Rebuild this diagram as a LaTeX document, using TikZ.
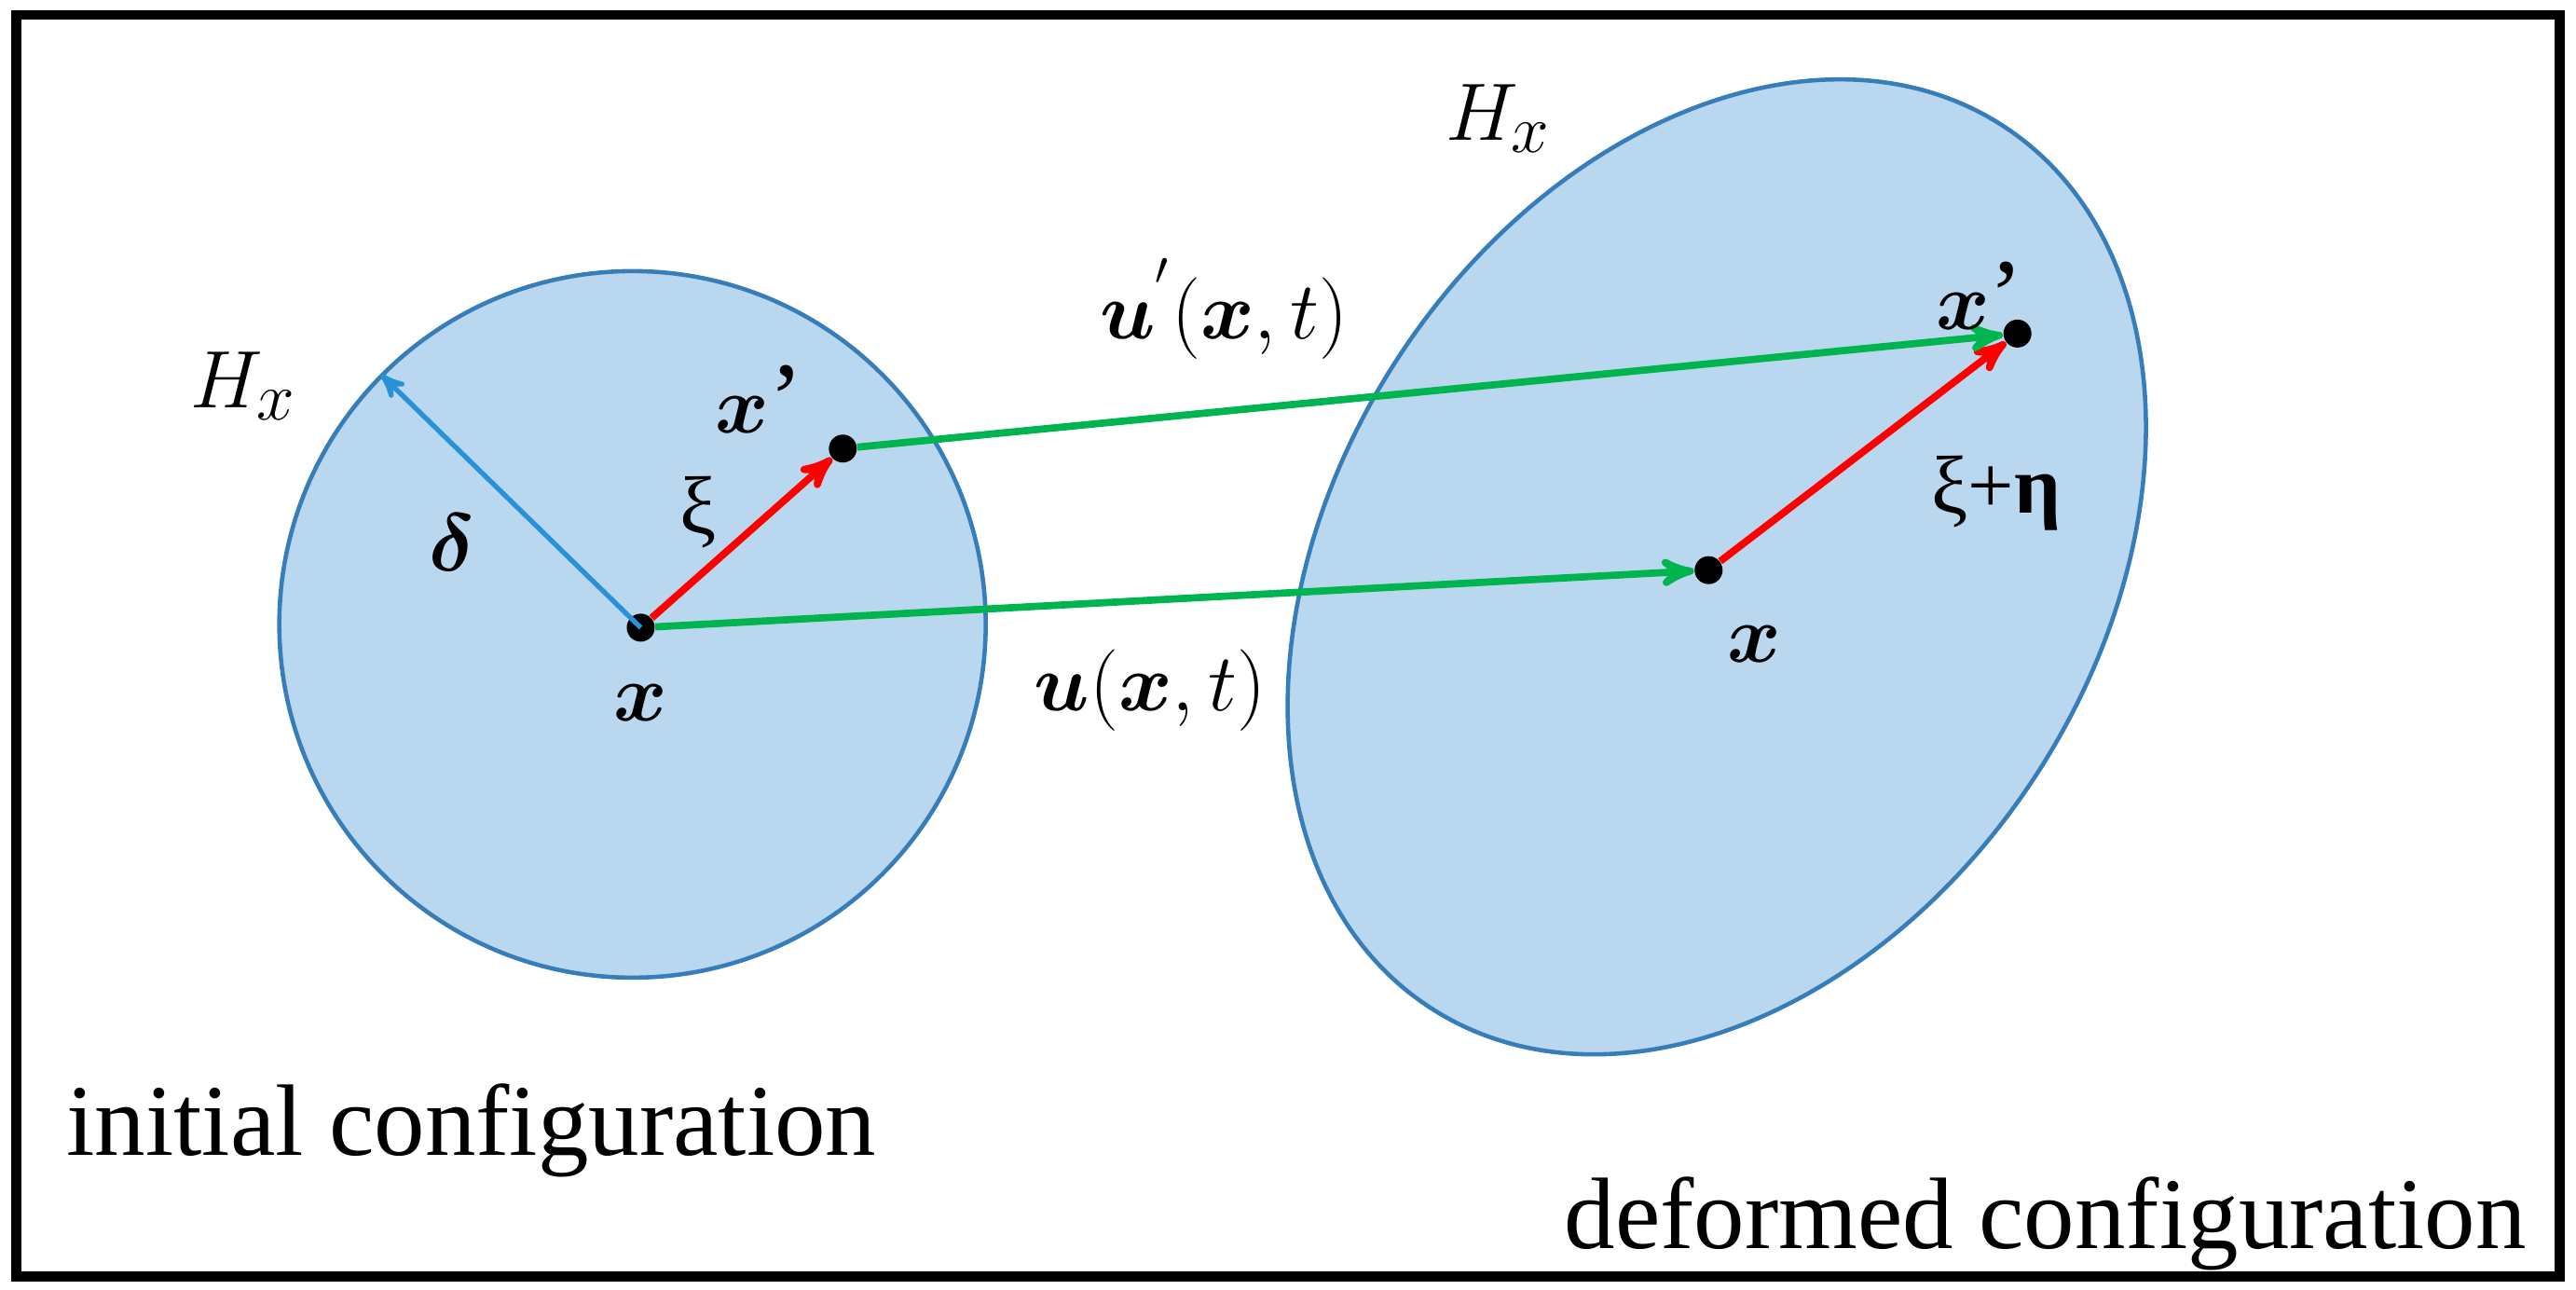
\documentclass[tikz,border=0pt]{standalone}
\usepackage{amsmath,bm}
\usepackage{fontspec}
\setmainfont{Liberation Serif}
\usetikzlibrary{positioning,arrows}
\definecolor{hfill}{RGB}{185,216,239}
\definecolor{hline}{RGB}{55,125,185}
\definecolor{dgreen}{RGB}{0,180,80}
\definecolor{darr}{RGB}{40,145,215}
\begin{document}
\begin{tikzpicture}[x=0.017628cm,y=-0.017628cm]
  \tikzstyle{region} = [draw=hline, line width=1.3pt, fill=hfill]
  \tikzstyle{pt} = [circle, fill=black, inner sep=0pt, minimum size=0.3cm]
  \tikzstyle{disp} = [line width=2.2pt, draw=dgreen, ->, >=stealth']
  \tikzstyle{bond} = [line width=2.2pt, draw=red, ->, >=stealth']
  \tikzstyle{lbl} = [font=\fontsize{31}{36}\selectfont]
  \tikzstyle{slbl} = [font=\fontsize{25}{30}\selectfont]
  \useasboundingbox (0,0) rectangle (1568,785);
  \draw [line width=3pt] (10,9) rectangle (1558,777);

  % Neighbourhoods
  \draw [region] (385,380) circle [radius=215];
  \draw [region, rotate around={57:(1045,345)}] (1045,345) ellipse [x radius=320, y radius=232];

  % Points
  \node (x0) [pt] at (390,382) {};
  \node (xp0) [pt] at (513,273) {};
  \node (x1) [pt] at (1040,347) {};
  \node (xp1) [pt] at (1228,203) {};
  \coordinate (rim) at (232,228);

  % Arrows
  \draw [line width=1.5pt, draw=darr, ->, >=stealth'] (x0.center) -- (rim);
  \draw [bond] (x0) -- (xp0);
  \draw [bond] (x1) -- (xp1);
  \draw [disp] (x0) -- (x1);
  \draw [disp] (xp0) -- (xp1);

  % Labels
  \node [lbl] at (148,235) {$H_x$};
  \node [lbl] at (912,72) {$H_x$};
  \node [lbl] at (275,330) {$\bm{\delta}$};
  \node [slbl] at (425,312) {ξ};
  \node [lbl] at (462,243) {$\bm{x}$’};
  \node [lbl] at (390,428) {$\bm{x}$};
  \node [lbl] at (1205,180) {$\bm{x}$’};
  \node [lbl] at (1068,392) {$\bm{x}$};
  \node [slbl] at (1215,300) {ξ+\textbf{η}};
  \node [lbl] at (745,188) {$\bm{u}^{'}(\bm{x},t)$};
  \node [lbl] at (700,420) {$\bm{u}(\bm{x},t)$};
  \node [lbl] at (287,688) {initial configuration};
  \node [lbl] at (1245,745) {deformed configuration};
\end{tikzpicture}
\end{document}
